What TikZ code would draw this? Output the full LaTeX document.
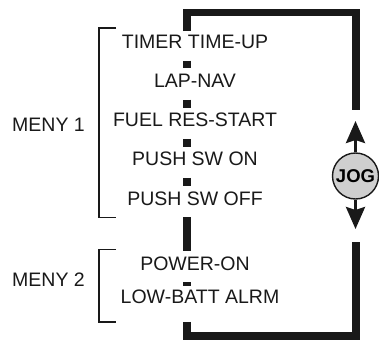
\documentclass[tikz,border=0pt]{standalone}
\usepackage{fontspec}
\setmainfont{Liberation Sans}
\usetikzlibrary{arrows.meta}
\begin{document}
\begin{tikzpicture}[x=1pt,y=-1pt,
  item/.style={anchor=base, inner sep=0pt, text height=19pt, text depth=12pt,
    font=\fontsize{19.5}{20}\selectfont, text=black!90},
  menulabel/.style={anchor=base, inner sep=0pt, font=\fontsize{19.5}{20}\selectfont, text=black!90},
  flow/.style={line width=7.5pt, line join=miter, line cap=butt, draw=black!90},
  brk/.style={line width=1.4pt, draw=black!90},
  jogarrow/.style={line width=3pt, draw=black!90, fill=black!90,
    -{Stealth[length=22pt,width=19pt,inset=3pt]}},
  jog/.style={circle, draw=black!90, line width=1.4pt, fill=gray!38,
    minimum size=46pt, inner sep=0pt, font=\bfseries\fontsize{18.5}{18}\selectfont}
]
\useasboundingbox (0,0) rectangle (379,340);

\coordinate (spine) at (187,0);
\coordinate (tr) at (356,12.5);
\coordinate (rtop) at (356,110);
\coordinate (br) at (356,336);
\coordinate (rbot) at (356,242);
\coordinate (upt) at (356,121);
\coordinate (dnt) at (356,229);

% menu items
\node[item, text height=17pt] (t1) at (195,48.3) {TIMER TIME-UP};
\node[item] (t2) at (195,87.3) {LAP-NAV};
\node[item] (t3) at (195,126.7) {FUEL RES-START};
\node[item] (t4) at (195,165.7) {PUSH SW ON};
\node[item] (t5) at (195,205) {PUSH SW OFF};
\node[item] (t6) at (195,270) {POWER-ON};
\node[item, text height=17.5pt, text depth=18.4pt] (t7) at (200,303.3) {LOW-BATT ALRM};

% menu labels
\node[menulabel] (m1) at (48.5,131) {MENY 1};
\node[menulabel] (m2) at (48.5,286) {MENY 2};

% brackets
\draw[brk] (116,28) -| (99,217.5) -- (116,217.5);
\draw[brk] (116,249.3) -| (99,322) -- (116,322);

% flow spine
\foreach \a/\b in {t1/t2,t2/t3,t3/t4,t4/t5,t5/t6,t6/t7}
  \draw[flow] (\a.south -| spine) -- (\b.north -| spine);
\draw[flow] (t1.north -| spine) |- (tr) -- (rtop);
\draw[flow] (t7.south -| spine) |- (br) -- (rbot);

% jog dial
\node[jog] (jog) at (355.5,176) {JOG};
\draw[jogarrow] (jog.north) -- (upt -| jog);
\draw[jogarrow] (jog.south) -- (dnt -| jog);
\end{tikzpicture}
\end{document}
